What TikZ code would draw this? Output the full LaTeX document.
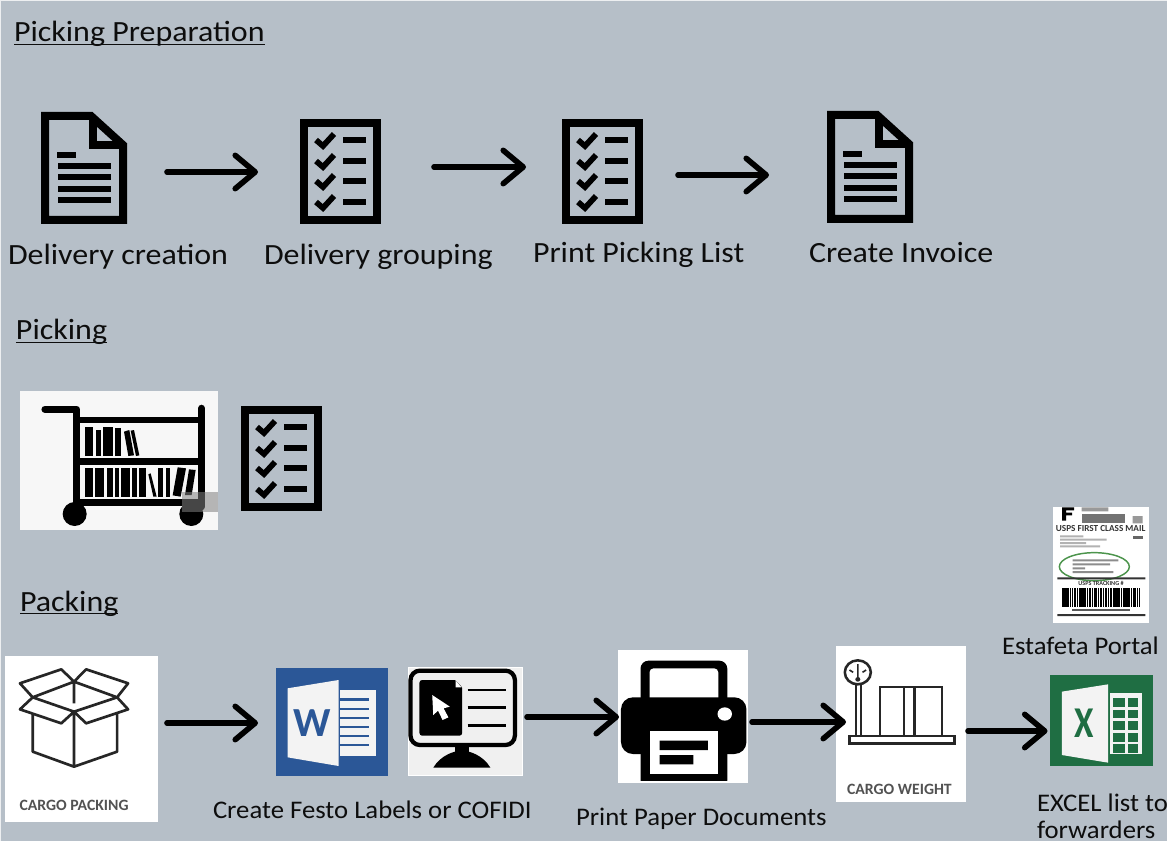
\documentclass[tikz,border=0pt]{standalone}
\usepackage{fontspec}
\setmainfont{Carlito}
\newfontfamily\captionbig[FakeStretch=1.09]{Carlito}
\newfontfamily\captionsmall[FakeStretch=1.055]{Carlito}
\usetikzlibrary{arrows.meta,calc}
\definecolor{slide}{RGB}{182,191,200}
\definecolor{wordblue}{RGB}{43,87,151}
\definecolor{xlgreen}{RGB}{31,110,67}
\definecolor{paper}{RGB}{243,243,243}
\newcommand{\headline}[1]{\underline{\smash{#1}}}
\tikzset{
  flow/.style={line width=4.2pt,line cap=round,-{Straight Barb[length=15pt,width=25pt,line cap=round,line join=round]}},
  lbl/.style={anchor=base west,inner sep=0pt,outer sep=0pt,font=\captionbig\fontsize{22pt}{25pt}\selectfont,text=black!95},
  small/.style={lbl,font=\captionsmall\fontsize{19pt}{23pt}\selectfont},
  imgbox/.style 2 args={anchor=north west,inner sep=0pt,outer sep=0pt,minimum width=#1*.75pt,minimum height=#2*.75pt},
  stamp/.style={inner sep=0pt,font=\bfseries\fontsize{11.8pt}{13pt}\selectfont,text=black!68},
  pics/docicon/.style={code={
    \draw[line width=6pt,miter limit=4] (4,4)--(50,4)--(82,33)--(82,108)--(4,108)--cycle;
    \draw[line width=6pt] (52,4)--(52,33)--(82,33);
    \draw[line width=4.4pt] (16,43)--(35,43) (17,54)--(70,54) (17,65)--(70,65) (17,77)--(70,77) (17,88)--(70,88);
  }},
  pics/checkicon/.style={code={
    \draw[line width=6pt] (4,4) rectangle (77,101);
    \foreach \c in {21,42,62,83}{
      \draw[line width=4.3pt] (16,\c)--(23,\c+6)--(34,\c-6);
      \draw[line width=5pt] (43,\c)--(66,\c);
    }
  }},
}
\begin{document}
\begin{tikzpicture}[x=.75pt,y=-.75pt]
\useasboundingbox (0,0) rectangle (1167,841);
\clip (0,0) rectangle (1167,841);
\fill[slide] (0,0) rectangle (1167,841);
\draw[white!75!slide,line width=1pt] (.5,841)--(.5,.5)--(1167,.5);

% ---------- headings and captions
\node[lbl] (h1) at (14,42) {\headline{Picking Preparation}};
\node[lbl] (c1) at (8,265) {Delivery creation};
\node[lbl] (c2) at (264,265) {Delivery grouping};
\node[lbl] (c3) at (533,263) {Print Picking List};
\node[lbl] (c4) at (809,263) {Create Invoice};
\node[lbl] (h2) at (16,340) {\headline{Picking}};
\node[lbl] (h3) at (20,611) {\headline{Packing}};
\node[small] (c5) at (1002,654) {Estafeta Portal};
\node[small] (c6) at (213,818) {Create Festo Labels or COFIDI};
\node[small] (c7) at (576,825) {Print Paper Documents};
\node[small] (c8) at (1037,811) {EXCEL list to};
\node[small] (c9) at (1037,838) {forwarders};

% ---------- top row icons
\node[imgbox={86}{112}] (doc1) at (41,112) {};
\node[imgbox={81}{105}] (chk1) at (300,119) {};
\node[imgbox={81}{105}] (chk2) at (562,119) {};
\node[imgbox={86}{112}] (doc2) at (827,111) {};
\pic at (doc1.north west) {docicon};
\pic at (chk1.north west) {checkicon};
\pic at (chk2.north west) {checkicon};
\pic at (doc2.north west) {docicon};

% ---------- picking row
\node[imgbox={198}{139},fill=paper!70!white] (cart) at (20,391) {};
\node[imgbox={81}{105}] (chk3) at (241,406) {};
\pic at (chk3.north west) {checkicon};
\begin{scope}[shift={(0,380)},x=.25pt,y=-.25pt]
  \draw[line width=5.4pt,line cap=round,line join=round] (135,88)--(230,88)--(230,380) (605,85)--(605,380);
  \draw[line width=5pt] (230,120)--(605,120) (230,245)--(605,245) (230,367)--(605,367);
  \fill (224,402) circle (36) (574,402) circle (36);
  \foreach \a/\b/\t in {255/280/140,287/302/150,308/338/140,345/363/145}
    \fill (\a,228)--(\a,\t)--(\b,\t)--(\b,228)--cycle;
  \fill (372,155)--(388,150)--(402,226)--(385,228)--cycle;
  \fill (392,152)--(402,150)--(418,226)--(408,228)--cycle;
  \foreach \a/\b in {255/280,285/313,320/340,346/357,363/390,396/412,418/437,475/490,497/510}
    \fill (\a,350) rectangle (\b,265);
  \fill (445,283)--(452,280)--(470,350)--(460,350)--cycle;
  \fill (533,262)--(558,265)--(542,350)--(518,346)--cycle;
  \fill (567,268)--(587,270)--(575,345)--(555,345)--cycle;
  \fill[gray,opacity=.55] (547,335) rectangle (655,395);
\end{scope}

% ---------- packing row: box
\node[imgbox={153}{166},fill=white] (cbox) at (5,656) {};
\begin{scope}[shift={(0,640)},x=.2583pt,y=-.25pt]
  \draw[line width=2pt,line join=round,black!85]
    (95,222)--(95,335)--(215,380)--(340,335)--(340,222) (215,215)--(215,380)
    (215,125)--(340,172)--(215,215)--(95,172)--cycle
    (215,125)--(178,88)--(58,130)--(95,172)
    (215,125)--(250,88)--(372,130)--(340,172)
    (95,172)--(58,208)--(178,250)--(215,215)
    (340,172)--(372,208)--(250,250)--(215,215)
    (215,125)--(215,190);
  \node[stamp] (boxtxt) at (215,495) {CARGO PACKING};
\end{scope}

% ---------- word icon
\node[imgbox={112}{108},fill=wordblue] (word) at (276,668) {};
\begin{scope}[shift={(0,640)},x=.2583pt,y=-.25pt]
  \fill[paper] (835,145)--(983,120)--(983,378)--(835,352)--cycle;
  \fill[paper] (988,150) rectangle (1092,348);
  \foreach \c in {178,207,234,261,288,315}
    \draw[wordblue,line width=2.2pt] (988,\c)--(1070,\c);
  \node[inner sep=0pt,text=wordblue,font=\bfseries\fontsize{31pt}{33pt}\selectfont] (wordw) at (907,248) {W};
\end{scope}

% ---------- monitor icon
\node[imgbox={114}{108},fill=black!6,draw=white,line width=.6pt] (screen) at (408,667) {};
\begin{scope}[shift={(0,640)},x=.2583pt,y=-.25pt]
  \draw[line width=3.2pt,rounded corners=7pt] (1192,92) rectangle (1495,315);
  \fill[rounded corners=2pt] (1218,120) rectangle (1342,287);
  \fill[black!6] (1318,116)--(1346,116)--(1346,146)--cycle;
  \fill[white] (1323,122)--(1340,142)--(1323,142)--cycle;
  \fill[white] (1255,165)--(1258,225)--(1272,212)--(1285,240)--(1302,232)--(1288,205)--(1306,200)--cycle;
  \draw[line width=2.2pt] (1358,150)--(1470,150) (1358,203)--(1470,203) (1358,257)--(1470,257);
  \fill (1320,315) rectangle (1362,345);
  \fill (1258,383) .. controls (1280,345) and (1320,332) .. (1341,332) .. controls (1362,332) and (1402,345) .. (1424,383) -- cycle;
\end{scope}

% ---------- printer icon
\node[imgbox={130}{133},fill=white] (printer) at (618,650) {};
\begin{scope}[shift={(600,640)},x=.2712pt,y=-.25pt]
  \begin{scope}
    \clip (50,30) rectangle (409,422);
    \fill[rounded corners=6pt] (112,62) rectangle (352,200);
    \fill[white,rounded corners=3pt] (137,85) rectangle (327,190);
    \fill[rounded corners=9pt] (58,172) rectangle (405,342);
    \fill[rounded corners=6pt] (112,250) rectangle (352,445);
    \fill[white] (137,272) rectangle (327,403);
    \fill[white] (345,222) circle (20);
    \fill (165,302) rectangle (298,330) (165,345) rectangle (258,373);
  \end{scope}
\end{scope}

% ---------- scale icon
\node[imgbox={130}{156},fill=white] (weigh) at (836,646) {};
\begin{scope}[shift={(600,640)},x=.2712pt,y=-.25pt]
  \draw[line width=1.9pt,black!85] (713,97) circle (36);
  \draw[line width=1.2pt,black!85] (713,72)--(713,118) (690,90)--(700,97) (736,90)--(726,97);
  \fill[black!85] (713,118) circle (7);
  \draw[line width=1.7pt,black!85] (708,132)--(708,288) (722,132)--(722,288);
  \draw[line width=1.7pt,black!85] (775,288)--(775,140)--(945,140)--(945,288) (840,140)--(840,288) (870,140)--(870,288);
  \draw[line width=1.9pt,black!85] (690,288) rectangle (980,310);
  \node[stamp] (weightxt) at (828,447) {CARGO WEIGHT};
\end{scope}

% ---------- excel icon
\node[imgbox={103}{91},fill=xlgreen] (excel) at (1049.5,675) {};
\begin{scope}[shift={(600,640)},x=.2712pt,y=-.25pt]
  \fill[paper] (1277,155)--(1405,133)--(1405,368)--(1277,345)--cycle;
  \fill[paper] (1410,160) rectangle (1500,342);
  \foreach \r in {174,209,244,279,313}{
    \fill[xlgreen] (1420,\r) rectangle (1453,\r+26);
    \fill[xlgreen] (1459,\r) rectangle (1487,\r+26);
  }
  \node[inner sep=0pt,text=xlgreen,font=\bfseries\fontsize{33pt}{35pt}\selectfont,xscale=.8] (xlx) at (1340,250) {X};
\end{scope}

% ---------- shipping label
\node[imgbox={96}{116},fill=white] (ship) at (1053,507) {};
\begin{scope}[shift={(1000,490)},x=.25pt,y=-.25pt]
  \clip (158,52) rectangle (447,398);
  \fill (186,52) rectangle (198,92) (186,52) rectangle (222,61) (186,68) rectangle (216,76);
  \fill[black!55] (245,72) rectangle (375,100);
  \fill[black!40] (245,52) rectangle (325,64) (398,78) rectangle (428,100);
  \node[inner sep=0pt,font=\bfseries\fontsize{6.9pt}{8pt}\selectfont,text=black!80] (shipm) at (302,117) {USPS FIRST CLASS MAIL};
  \fill[black!30] (180,136) rectangle (250,142) (180,146) rectangle (320,152) (180,156) rectangle (258,162) (180,166) rectangle (300,172);
  \fill[black!60] (400,138) rectangle (430,148);
  \draw[green!40!black!70,line width=1.1pt] (283,230) ellipse (105 and 42);
  \fill[black!45] (218,208) rectangle (355,214) (218,220) rectangle (330,226) (218,232) rectangle (255,238) (218,243) rectangle (340,249);
  \fill[black!80] (172,262) rectangle (436,268) (172,372) rectangle (436,378);
  \node[inner sep=0pt,font=\bfseries\fontsize{4.6pt}{5pt}\selectfont,text=black!80] (shipt) at (303,281) {USPS TRACKING \#};
  \foreach \a/\w in {185/6,193/4,199/8,209/4,215/4,221/7,230/4,236/9,247/4,253/6,261/4,267/7,276/4,282/10,294/4,300/6,308/4,314/8,324/4,330/6,338/9,349/4,355/6,363/4,369/8,379/4,385/6,393/4,399/9,410/4,416/4}
    \fill (\a,293) rectangle (\a+\w,350);
  \fill[black!65] (217,356) rectangle (390,364);
\end{scope}

% ---------- connectors
\draw[flow] ($(doc1.east)+(40,4)$) -- ($(chk1.west)+(-42,.5)$);
\draw[flow] ($(chk1.east)+(53,-4.5)$) -- ($(chk2.west)+(-36,-4.5)$);
\draw[flow] ($(chk2.east)+(35,3.5)$) -- ($(doc2.west)+(-58,8)$);
\draw[flow] ($(cbox.east)+(9,-16)$) -- ($(word.west)+(-18,1)$);
\draw[flow] ($(screen.east)+(5,-4)$) -- ($(printer.west)+(1,.5)$);
\draw[flow] ($(printer.east)+(4,5.5)$) -- ($(weigh.west)+(10,-2)$);
\draw[flow] ($(weigh.east)+(2,7)$) -- ($(excel.west)+(-2,10.5)$);
\end{tikzpicture}
\end{document}
